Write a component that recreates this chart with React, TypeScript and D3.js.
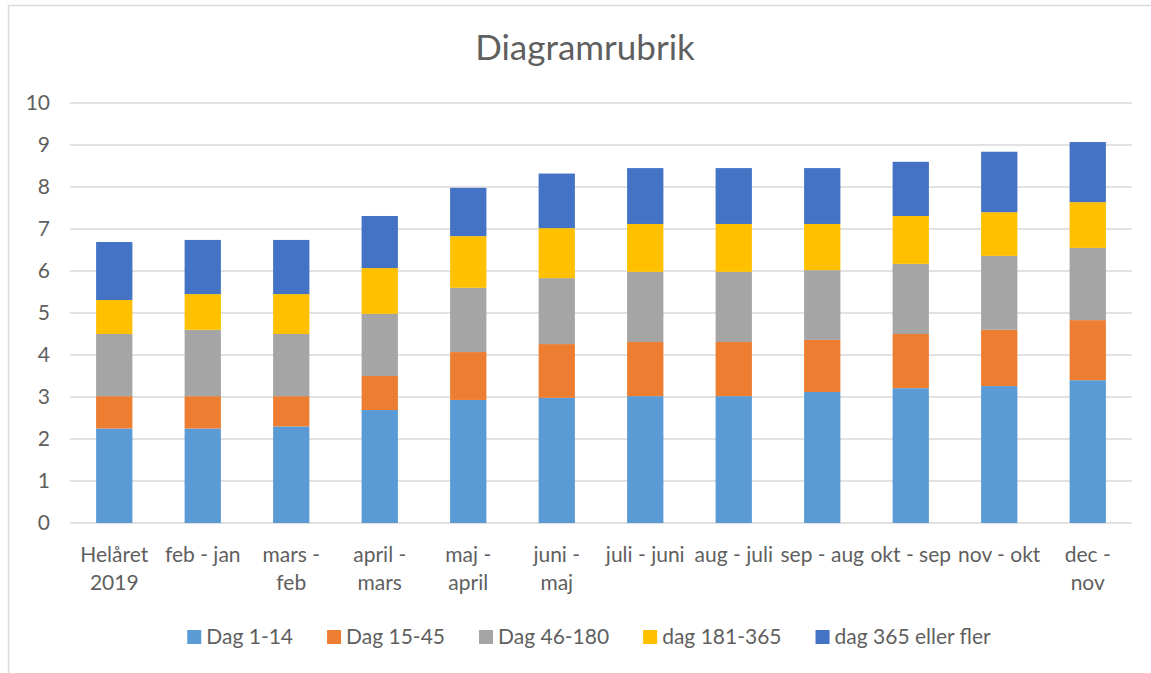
import React, { useLayoutEffect, useRef, useState } from "react";
import * as d3 from "d3";

// Rolling periods on the x axis (each entry is a list of wrapped lines)
const categories: string[][] = [
  ["Helåret", "2019"],
  ["feb - jan"],
  ["mars -", "feb"],
  ["april -", "mars"],
  ["maj -", "april"],
  ["juni -", "maj"],
  ["juli - juni"],
  ["aug - juli"],
  ["sep - aug"],
  ["okt - sep"],
  ["nov - okt"],
  ["dec -", "nov"],
];

const seriesNames = ["Dag 1-14", "Dag 15-45", "Dag 46-180", "dag 181-365", "dag 365 eller fler"];
const seriesColors = ["#5B9BD5", "#ED7D31", "#A5A5A5", "#FFC000", "#4472C4"];

const dag1_14 = [2.25, 2.25, 2.3, 2.69, 2.93, 2.98, 3.02, 3.02, 3.12, 3.21, 3.26, 3.4];
const dag15_45 = [0.77, 0.77, 0.72, 0.81, 1.14, 1.28, 1.29, 1.29, 1.24, 1.29, 1.34, 1.43];
const dag46_180 = [1.48, 1.58, 1.48, 1.48, 1.53, 1.57, 1.67, 1.67, 1.66, 1.67, 1.76, 1.72];
const dag181_365 = [0.81, 0.85, 0.95, 1.09, 1.23, 1.19, 1.14, 1.14, 1.1, 1.14, 1.04, 1.09];
const dag365plus = [1.38, 1.29, 1.29, 1.24, 1.15, 1.3, 1.33, 1.33, 1.33, 1.29, 1.44, 1.43];

const yTicks = [0, 1, 2, 3, 4, 5, 6, 7, 8, 9, 10];

const W = 1151;
const H = 673;
const FONT = "Lato, 'Open Sans', sans-serif";
const TEXT = "#5f5f5f";
const GRID = "#d9d9d9";

export default function App() {
  const seriesData = [dag1_14, dag15_45, dag46_180, dag181_365, dag365plus];
  const rows = categories.map((c, i) => {
    const r: Record<string, number | string> = { key: String(i) };
    seriesNames.forEach((s, k) => (r[s] = seriesData[k][i]));
    return r;
  });
  const stacked = d3.stack<Record<string, number | string>>().keys(seriesNames)(rows as any);

  const x = d3
    .scaleBand<string>()
    .domain(categories.map((_, i) => String(i)))
    .range([70, 1132])
    .paddingInner(0.59)
    .paddingOuter(0.295);
  const y = d3.scaleLinear().domain([0, 10]).range([523, 103]);

  // Legend layout: measure label widths, then center the row
  const legendRefs = useRef<(SVGTextElement | null)[]>([]);
  const [legendW, setLegendW] = useState<number[]>(seriesNames.map(() => 90));
  useLayoutEffect(() => {
    const ws = legendRefs.current.map((t) => (t ? t.getComputedTextLength() : 90));
    setLegendW(ws);
  }, []);
  const marker = 14;
  const markerGap = 5;
  const itemGap = 34;
  const totalLegend =
    legendW.reduce((a, b) => a + b, 0) + seriesNames.length * (marker + markerGap) + (seriesNames.length - 1) * itemGap;
  let lx = 589 - totalLegend / 2;
  const legendPos = legendW.map((w) => {
    const p = lx;
    lx += marker + markerGap + w + itemGap;
    return p;
  });
  const legendY = 637;

  return (
    <svg
      width={W}
      height={H}
      style={{ position: "absolute", left: 0, top: 0, background: "#fff" }}
      fontFamily={FONT}
    >
      <rect x={0} y={0} width={W} height={H} fill="#fff" />
      <rect x={8.5} y={5.5} width={1160} height={700} fill="none" stroke={GRID} strokeWidth={1.5} />

      <text x={585} y={60} textAnchor="middle" fontSize={35} fill={TEXT}>
        Diagramrubrik
      </text>

      {/* gridlines and y labels */}
      {yTicks.map((t) => (
        <g key={t}>
          <line x1={70} x2={1132} y1={y(t)} y2={y(t)} stroke={GRID} strokeWidth={1.5} />
          <text x={50} y={y(t)} dy="0.35em" textAnchor="end" fontSize={21} fill={TEXT}>
            {t}
          </text>
        </g>
      ))}

      {/* stacked bars */}
      {stacked.map((layer, k) => (
        <g key={layer.key} fill={seriesColors[k]}>
          {layer.map((d, i) => (
            <rect
              key={i}
              x={x(String(i))}
              y={y(d[1])}
              width={x.bandwidth()}
              height={y(d[0]) - y(d[1])}
            />
          ))}
        </g>
      ))}

      {/* category labels */}
      {categories.map((lines, i) => (
        <text
          key={i}
          x={(x(String(i)) as number) + x.bandwidth() / 2}
          y={562}
          textAnchor="middle"
          fontSize={21}
          fill={TEXT}
        >
          {lines.map((l, j) => (
            <tspan key={j} x={(x(String(i)) as number) + x.bandwidth() / 2} dy={j === 0 ? 0 : 28}>
              {l}
            </tspan>
          ))}
        </text>
      ))}

      {/* legend */}
      {seriesNames.map((s, k) => (
        <g key={s} transform={`translate(${legendPos[k]},${legendY})`}>
          <rect x={0} y={-marker / 2} width={marker} height={marker} fill={seriesColors[k]} />
          <text
            ref={(el) => (legendRefs.current[k] = el)}
            x={marker + markerGap}
            y={0}
            dy="0.35em"
            fontSize={21}
            fill={TEXT}
          >
            {s}
          </text>
        </g>
      ))}
    </svg>
  );
}
